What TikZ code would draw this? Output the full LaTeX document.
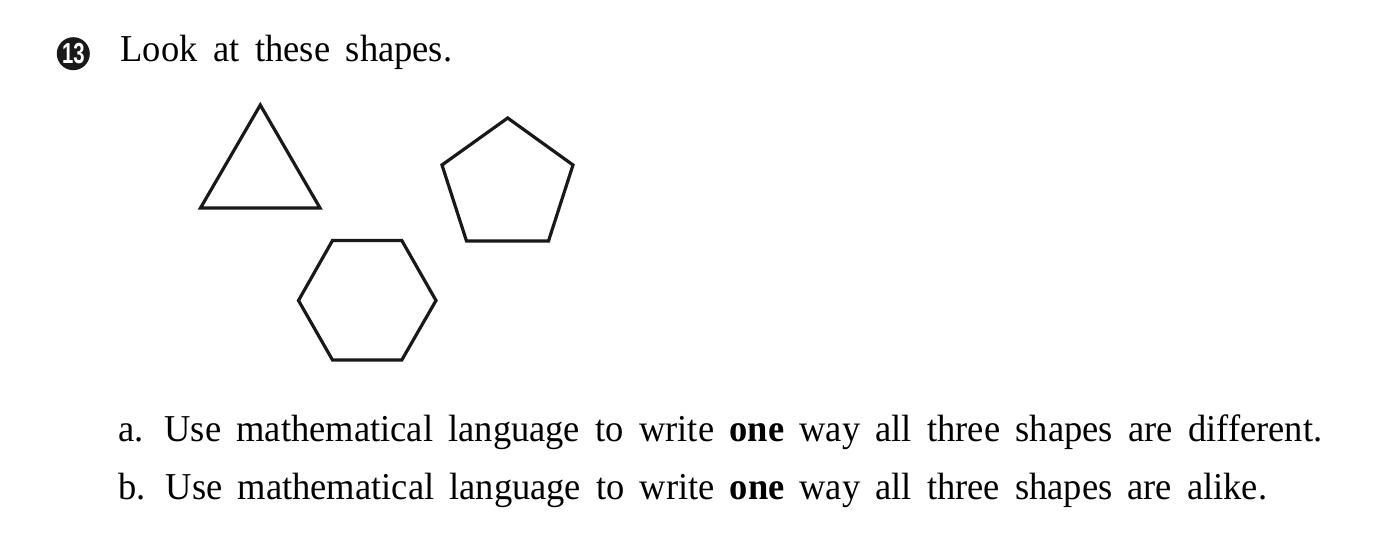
\documentclass[tikz,border=0pt]{standalone}
\usepackage{fontspec}
\setmainfont{Liberation Serif}[FakeStretch=0.96]
\newfontfamily\badgefont{Liberation Sans}
\newcommand{\fitline}[2]{\makebox[#1][s]{\spaceskip=14pt plus 12pt minus 4pt\relax #2}}
\begin{document}
\begin{tikzpicture}[x=1pt,y=-1pt,
  txt/.style={anchor=base west,inner sep=0pt,font=\fontsize{38}{42}\selectfont},
  shp/.style={draw=black!90,line width=3.2pt,line join=miter},
  badge/.style={circle,fill=black!90,minimum size=33pt,inner sep=0pt,text=white,font=\badgefont\bfseries\fontsize{29}{30}\selectfont}]
\useasboundingbox[fill=white] (0,0) rectangle (1390,553);
% badge and title
\node[badge] (num) at (73.3,53.7) {\scalebox{0.7}[1]{13}};
\node[txt] (title) at (120.5,61.7) {\fitline{331.5pt}{Look at these shapes.}};
% triangle
\coordinate (t1) at (260.3,105);
\coordinate (t2) at (320,208);
\coordinate (t3) at (200.5,208);
\draw[shp] (t1) -- (t2) -- (t3) -- cycle;
% pentagon
\coordinate (p1) at (507.7,118);
\coordinate (p2) at (573,165);
\coordinate (p3) at (548.5,241);
\coordinate (p4) at (466.5,241);
\coordinate (p5) at (442,165);
\draw[shp] (p1) -- (p2) -- (p3) -- (p4) -- (p5) -- cycle;
% hexagon
\coordinate (h1) at (332.5,240.5);
\coordinate (h2) at (401.8,240.5);
\coordinate (h3) at (436,300.5);
\coordinate (h4) at (401.8,360);
\coordinate (h5) at (332.5,360);
\coordinate (h6) at (298.5,300.5);
\draw[shp] (h1) -- (h2) -- (h3) -- (h4) -- (h5) -- (h6) -- cycle;
% questions
\node[txt] (qa) at (118,441.7) {\fitline{1204pt}{a. Use mathematical language to write \textbf{one} way all three shapes are different.}};
\node[txt] (qb) at (118,499.3) {\fitline{1149pt}{b. Use mathematical language to write \textbf{one} way all three shapes are alike.}};
\end{tikzpicture}
\end{document}
